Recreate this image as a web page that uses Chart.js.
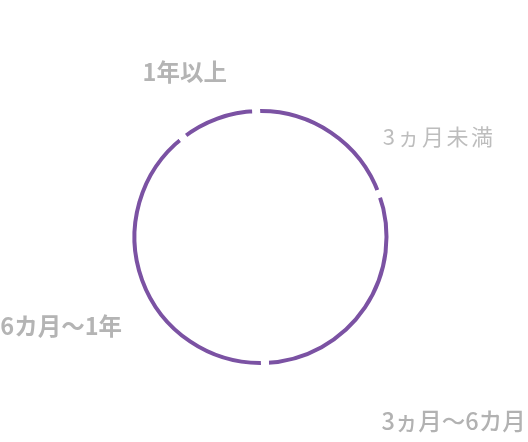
<!DOCTYPE html>
<html>
<head>
<meta charset="utf-8">
<script src="https://cdn.jsdelivr.net/npm/chart.js@4/dist/chart.umd.min.js"></script>
<style>
  html, body { margin: 0; padding: 0; background: #fff; }
  #wrap { width: 528px; height: 442px; position: relative; }
</style>
</head>
<body>
<div id="wrap"><canvas id="chart"></canvas></div>
<script>
// Share of each period (percent), clockwise from the top
const periods = ['3ヵ月未満', '3ヵ月〜6カ月', '6カ月〜1年', '1年以上'];
const shares = [20, 30, 40, 10];

// Label look + where each sits relative to the outer edge of its slice
const labelStyles = [
  {font: '400 22px "Noto Sans CJK JP"', color: '#bdbdbd', spacing: '2.5px', shift: [107, 6]},
  {font: '500 23.5px "Noto Sans CJK JP"', color: '#b2b2b2', spacing: '0px', shift: [87, 112]},
  {font: 'bold 23.5px "Noto Sans CJK JP"', color: '#b4b4b4', spacing: '0px', shift: [-79, 45]},
  {font: 'bold 23.5px "Noto Sans CJK JP"', color: '#b4b4b4', spacing: '0px', shift: [-32, -45]},
];

const ringColour = '#7b52a3';
const outerR = 132;   // white border eats 4px on each edge
const innerR = 120;

// Draws the period names around the ring
const outsideLabels = {
  id: 'outsideLabels',
  afterDatasetsDraw(chart) {
    const c = chart.ctx;
    const meta = chart.getDatasetMeta(0);
    meta.data.forEach((arc, i) => {
      const st = labelStyles[i];
      const mid = (arc.startAngle + arc.endAngle) / 2;
      const r = arc.outerRadius - 4;
      const x = arc.x + Math.cos(mid) * r + st.shift[0];
      const y = arc.y + Math.sin(mid) * r + st.shift[1];
      c.save();
      c.font = st.font;
      c.fillStyle = st.color;
      c.letterSpacing = st.spacing;
      c.textAlign = 'center';
      c.textBaseline = 'middle';
      c.fillText(periods[i], x, y);
      c.restore();
    });
  }
};

const ctx = document.getElementById('chart').getContext('2d');

const chart = new Chart(ctx, {
  type: 'doughnut',
  data: {
    labels: periods,
    datasets: [{
      data: shares,
      backgroundColor: ringColour,
      borderColor: '#ffffff',
      borderWidth: 8,
      hoverOffset: 0,
    }],
  },
  options: {
    responsive: true,
    maintainAspectRatio: false,
    animation: false,
    events: [],
    rotation: -2,
    radius: outerR,
    cutout: (innerR / outerR * 100) + '%',
    layout: {
      padding: {left: 0, right: 7, top: 32, bottom: 0},
    },
    plugins: {
      legend: {display: false},
      tooltip: {enabled: false},
    },
  },
  plugins: [outsideLabels],
});
</script>
</body>
</html>
